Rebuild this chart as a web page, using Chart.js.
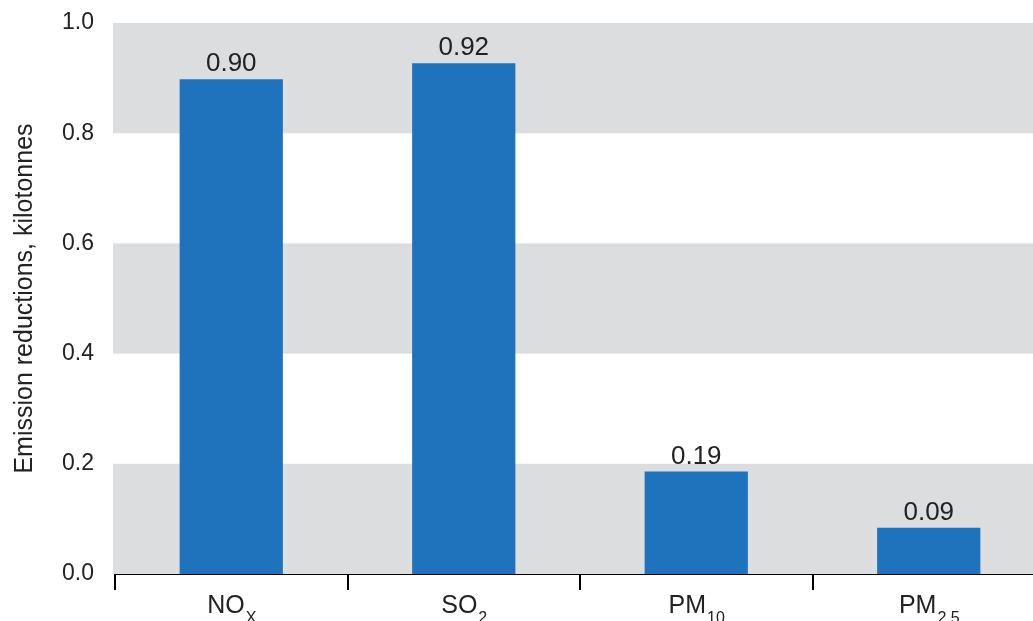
<!DOCTYPE html>
<html>
<head>
<meta charset="utf-8">
<script src="https://cdn.jsdelivr.net/npm/chart.js@4.4.0/dist/chart.umd.min.js"></script>
<style>
  html, body { margin: 0; padding: 0; background: #fff; overflow: hidden; }
  #wrap { width: 1033px; height: 621px; overflow: hidden; position: relative; }
  #box { width: 1045px; height: 621px; position: absolute; left: 0; top: 0; }
</style>
</head>
<body>
<div id="wrap"><div id="box"><canvas id="myChart"></canvas></div></div>
<script>
// categories, split into main text + subscript for the axis
var categories = ['NOx', 'SO2', 'PM10', 'PM2.5'];
var catMain = ['NO', 'SO', 'PM', 'PM'];
var catSub = ['X', '2', '10', '2.5'];

var reductions = [0.898, 0.927, 0.186, 0.084];
var valueLabels = ['0.90', '0.92', '0.19', '0.09'];

var yTicks = [0, 0.2, 0.4, 0.6, 0.8, 1.0];
var greyBands = [[0, 0.2], [0.4, 0.6], [0.8, 1.0]];

var FONT = '"Liberation Sans", Arial, sans-serif';
var TEXT = '#222222';

// grey stripes behind the bars
var bandPlugin = {
    id: 'bands',
    beforeDatasetsDraw: function (chart) {
        var ctx = chart.ctx, a = chart.chartArea, y = chart.scales.y;
        ctx.save();
        ctx.fillStyle = '#dcdddf';
        greyBands.forEach(function (b) {
            var top = y.getPixelForValue(b[1]);
            var bot = y.getPixelForValue(b[0]);
            ctx.fillRect(a.left - 2, top, a.right - a.left + 2, bot - top);
        });
        ctx.restore();
    }
};

// value on top of each bar + category labels with subscripts
var labelPlugin = {
    id: 'labels',
    afterDraw: function (chart) {
        var ctx = chart.ctx;
        var meta = chart.getDatasetMeta(0);
        var xs = chart.scales.x;
        ctx.save();
        ctx.fillStyle = TEXT;
        ctx.textAlign = 'center';
        ctx.textBaseline = 'alphabetic';
        ctx.font = '26px ' + FONT;
        meta.data.forEach(function (bar, i) {
            ctx.fillText(valueLabels[i], bar.x, bar.y - 8);
        });

        ctx.textAlign = 'left';
        categories.forEach(function (c, i) {
            var cx = xs.getPixelForValue(i);
            ctx.font = '25px ' + FONT;
            var w1 = ctx.measureText(catMain[i]).width;
            ctx.font = '16px ' + FONT;
            var w2 = ctx.measureText(catSub[i]).width;
            var x0 = cx - (w1 + w2) / 2;
            ctx.font = '25px ' + FONT;
            ctx.fillText(catMain[i], x0, 613);
            ctx.font = '16px ' + FONT;
            ctx.fillText(catSub[i], x0 + w1 + 1, 623);
        });
        ctx.restore();
    }
};

var ctx = document.getElementById('myChart').getContext('2d');
var myChart = new Chart(ctx, {
    type: 'bar',
    data: {
        labels: categories,
        datasets: [{
            data: reductions,
            backgroundColor: '#1f72bc',
            barPercentage: 0.444,
            categoryPercentage: 1.0
        }]
    },
    options: {
        responsive: true,
        maintainAspectRatio: false,
        animation: false,
        layout: { padding: { top: 23, bottom: 31, left: 0, right: 0 } },
        plugins: { legend: { display: false }, tooltip: { enabled: false } },
        scales: {
            x: {
                grid: { display: true, drawOnChartArea: false, drawTicks: true, tickLength: 16, color: '#000', lineWidth: 2, offset: true },
                border: { display: true, color: '#000', width: 2 },
                ticks: { display: false }
            },
            y: {
                min: 0,
                max: 1,
                afterBuildTicks: function (scale) {
                    scale.ticks = yTicks.map(function (v) { return { value: v }; });
                },
                afterFit: function (scale) {
                    scale.width = 115;
                    scale.paddingTop = 0;
                    scale.paddingBottom = 0;
                },
                grid: { display: false, drawTicks: false },
                border: { display: false },
                ticks: {
                    padding: 21,
                    color: TEXT,
                    font: { family: FONT, size: 23 },
                    callback: function (v) { return v.toFixed(1); }
                },
                title: {
                    display: true,
                    text: 'Emission reductions, kilotonnes',
                    color: TEXT,
                    font: { family: FONT, size: 25 },
                    padding: { top: 10, bottom: 0 }
                }
            }
        }
    },
    plugins: [bandPlugin, labelPlugin]
});
</script>
</body>
</html>
